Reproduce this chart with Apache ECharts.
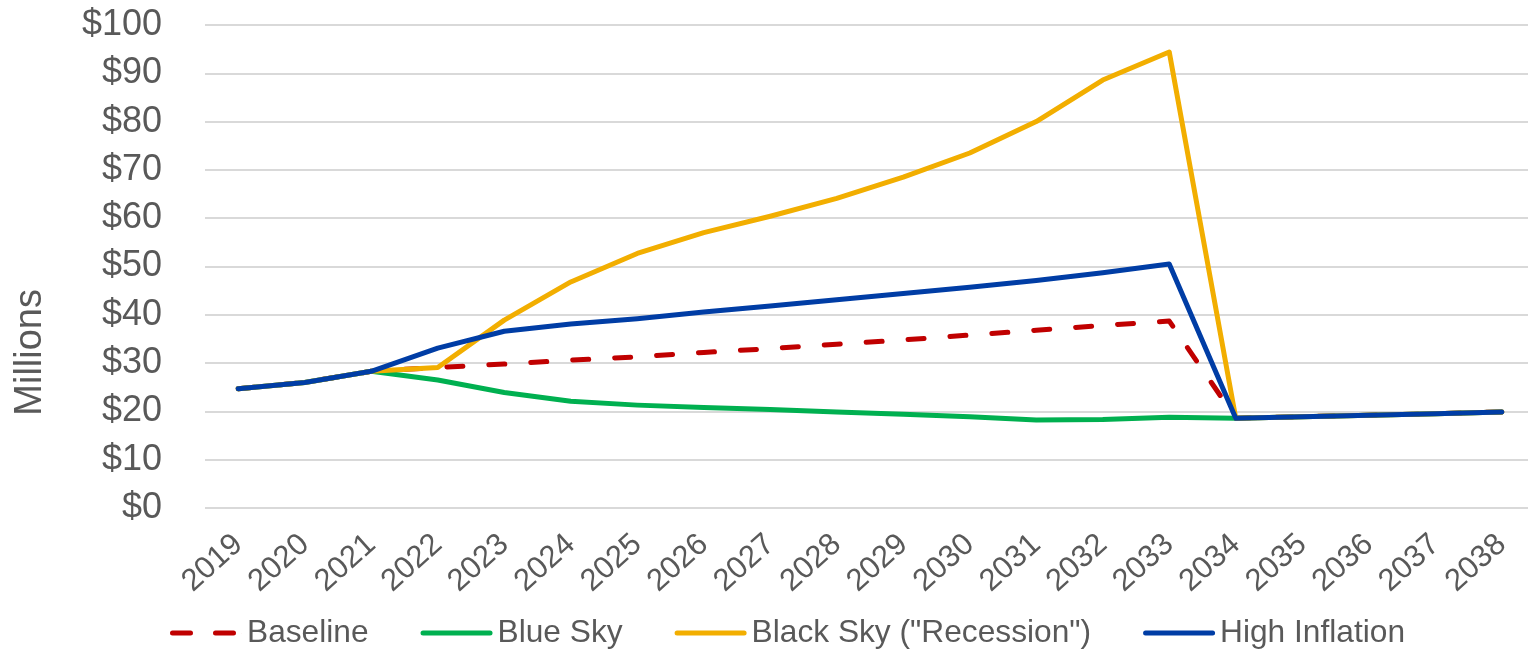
<!DOCTYPE html>
<html>
<head>
<meta charset="utf-8">
<script src="https://cdn.jsdelivr.net/npm/echarts@6/dist/echarts.min.js"></script>
<style>
  html, body { margin: 0; padding: 0; background: #fff; }
  #chart { width: 1528px; height: 650px; }
</style>
</head>
<body>
<div id="chart"></div>
<script>
// Projected annual cost by scenario, in millions of dollars
const years = ['2019','2020','2021','2022','2023','2024','2025','2026','2027','2028',
               '2029','2030','2031','2032','2033','2034','2035','2036','2037','2038'];

const baseline      = [24.7, 26.0, 28.3, 29.1, 29.8, 30.6, 31.3, 32.2, 33.0, 33.9,
                       34.8, 35.8, 36.8, 37.8, 38.7, 18.6, 18.9, 19.2, 19.5, 19.9];
const blueSky       = [24.7, 26.0, 28.3, 26.5, 23.9, 22.1, 21.3, 20.8, 20.4, 19.9,
                       19.4, 18.9, 18.2, 18.3, 18.8, 18.6, 18.9, 19.2, 19.5, 19.9];
const blackSky      = [24.7, 26.0, 28.3, 29.1, 38.9, 46.8, 52.7, 57.0, 60.4, 64.1,
                       68.5, 73.5, 80.0, 88.6, 94.4, 18.6, 18.9, 19.2, 19.5, 19.9];
const highInflation = [24.7, 26.0, 28.3, 33.1, 36.6, 38.1, 39.2, 40.6, 41.8, 43.1,
                       44.4, 45.7, 47.1, 48.7, 50.5, 18.6, 18.9, 19.2, 19.5, 19.9];

const seriesNames = ['Baseline', 'Blue Sky', 'Black Sky ("Recession")', 'High Inflation'];
const seriesColors = ['#C00000', '#00B050', '#F2AE00', '#003DA5'];
const yTitle = 'Millions';

const FONT = '"Liberation Sans", Arial, sans-serif';
const TEXT = '#595959';

// Legend keys: a rounded bar for solid lines, two short bars for the dashed one
const ICON_SOLID = 'path://M2.5,0 H69.5 A2.5,2.5 0 0 1 69.5,5 H2.5 A2.5,2.5 0 0 1 2.5,0 Z';
const ICON_DASHED = 'path://M2.5,0 H20.5 A2.5,2.5 0 0 1 20.5,5 H2.5 A2.5,2.5 0 0 1 2.5,0 Z ' +
                    'M45.5,0 H63.5 A2.5,2.5 0 0 1 63.5,5 H45.5 A2.5,2.5 0 0 1 45.5,0 Z ' +
                    'M72,2 L72,3 L71.9,3 Z';

function lineSeries(i, data, dashed) {
  return {
    name: seriesNames[i],
    type: 'line',
    data: data,
    symbol: 'none',
    smooth: false,
    color: seriesColors[i],
    lineStyle: {
      color: seriesColors[i],
      width: 5,
      type: dashed ? [16, 26] : 'solid',
      cap: 'round',
      join: 'round'
    },
    emphasis: { disabled: true }
  };
}

const chart = echarts.init(document.getElementById('chart'), null, { renderer: 'canvas' });
chart.setOption({
  animation: false,
  backgroundColor: '#ffffff',
  grid: {
    left: 205, top: 25, width: 1330, height: 483,
    containLabel: false,
    outerBoundsMode: 'none'
  },
  legend: {
    left: 165,
    top: 610,
    itemWidth: 72,
    itemHeight: 5,
    itemGap: 52,
    textStyle: { fontFamily: FONT, fontSize: 31.7, color: TEXT, lineHeight: 36 },
    data: seriesNames.map((n, i) => ({
      name: n,
      icon: i === 0 ? ICON_DASHED : ICON_SOLID,
      itemStyle: { color: seriesColors[i], borderWidth: 0 }
    }))
  },
  graphic: [{
    type: 'text',
    left: 12,
    top: 289,
    rotation: Math.PI / 2,
    style: {
      text: yTitle,
      fontFamily: FONT,
      fontSize: 38,
      fill: TEXT
    }
  }],
  xAxis: {
    type: 'category',
    data: years,
    boundaryGap: true,
    axisLine: { show: false },
    axisTick: { show: false },
    axisLabel: {
      rotate: 42,
      margin: 32,
      interval: 0,
      fontFamily: FONT,
      fontSize: 31,
      color: TEXT
    }
  },
  yAxis: {
    type: 'value',
    min: 0,
    max: 100,
    interval: 10,
    axisLine: { show: false },
    axisTick: { show: false },
    axisLabel: {
      margin: 43,
      fontFamily: FONT,
      fontSize: 36,
      color: TEXT,
      formatter: v => '$' + v
    },
    splitLine: { lineStyle: { color: '#D9D9D9', width: 2 } }
  },
  series: [
    lineSeries(0, baseline, true),
    lineSeries(1, blueSky, false),
    lineSeries(2, blackSky, false),
    lineSeries(3, highInflation, false)
  ]
});
</script>
</body>
</html>
